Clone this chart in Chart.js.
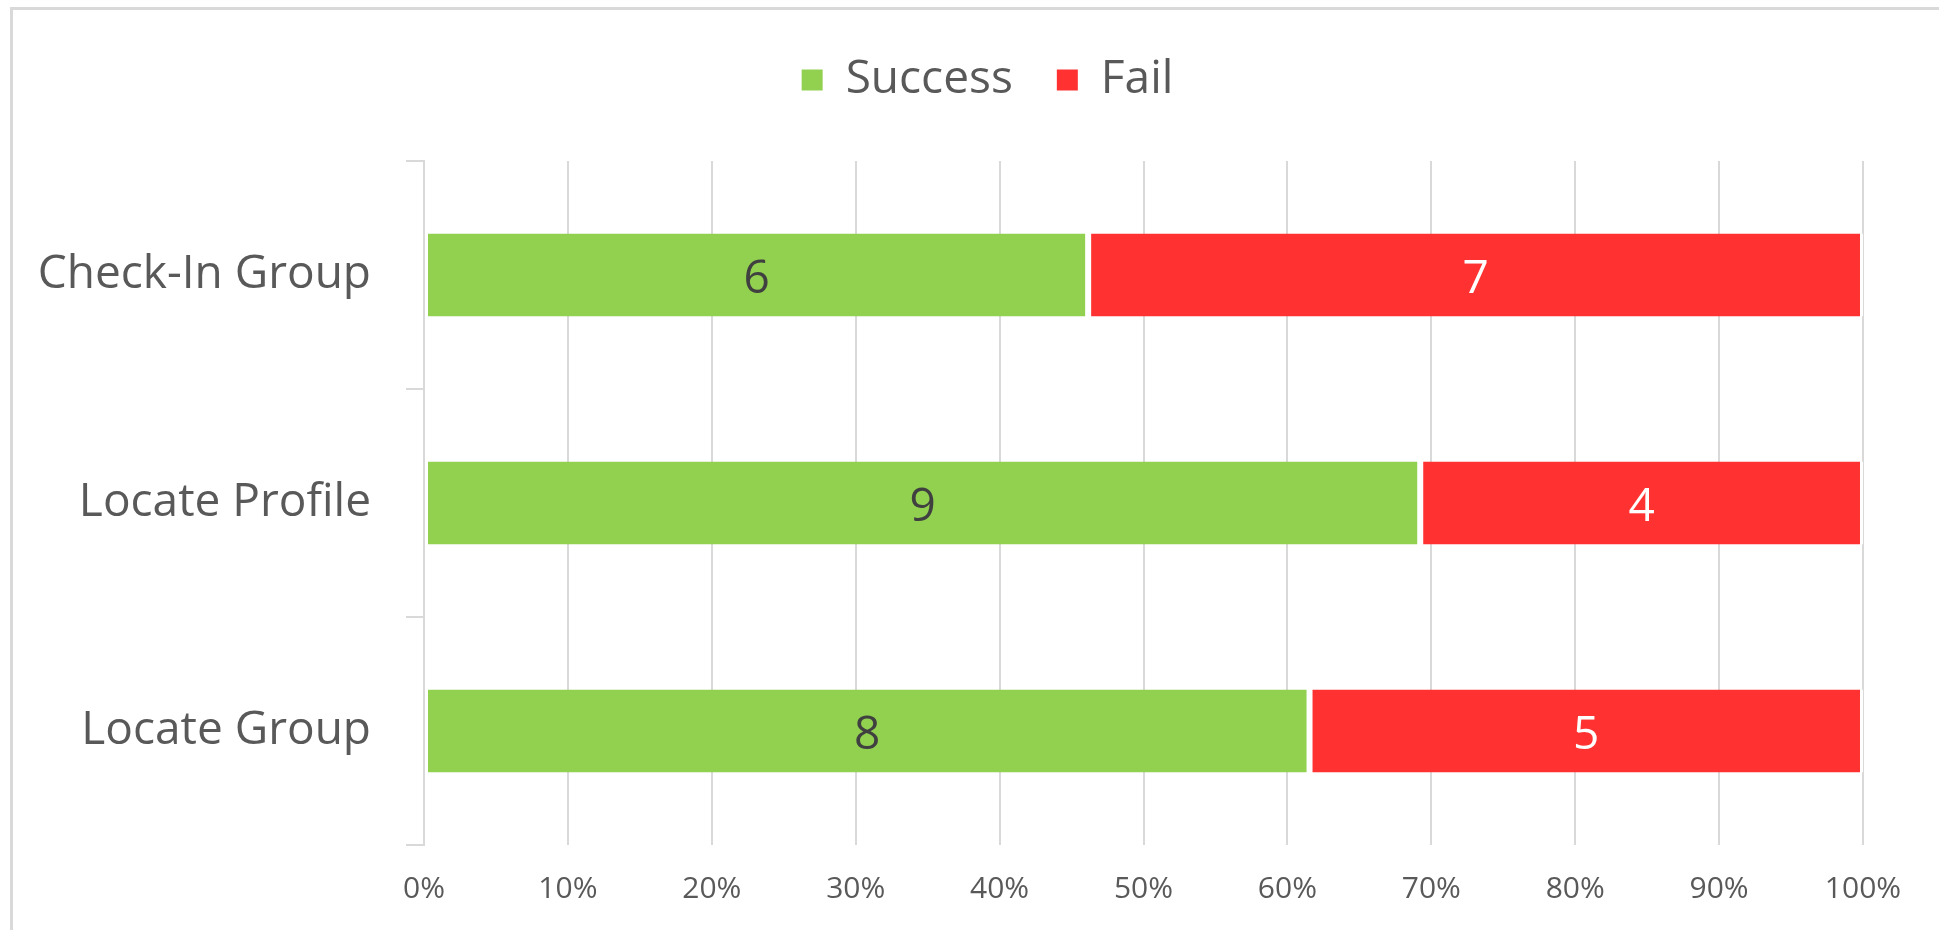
<!DOCTYPE html>
<html lang="en">
<head>
    <meta charset="UTF-8">
    <title>Success vs Fail</title>
    <style>
        body, html {
            margin: 0;
            padding: 0;
            background: #fff;
            overflow: hidden;
        }
        .frame {
            position: absolute;
            left: 10px;
            top: 7px;
            width: 3000px;
            height: 2000px;
            border-top: 3px solid #d9d9d9;
            border-left: 3px solid #d9d9d9;
        }
        .chart-container {
            position: absolute;
            left: 0;
            top: 0;
            width: 1939px;
            height: 930px;
        }
    </style>
    <script src="https://cdn.jsdelivr.net/npm/chart.js"></script>
</head>
<body>
    <div class="frame"></div>
    <div class="chart-container">
        <canvas id="taskChart"></canvas>
    </div>

    <script>
        const categories = ['Check-In Group', 'Locate Profile', 'Locate Group'];
        const successCounts = [6, 9, 8];
        const failCounts = [7, 4, 5];
        const seriesNames = ['Success', 'Fail'];
        const seriesColors = ['#92d050', '#ff3131'];
        const labelColors = ['#404040', '#ffffff'];

        // 100% stacked: turn counts into shares of each row
        const totals = successCounts.map((s, i) => s + failCounts[i]);
        const successPct = successCounts.map((s, i) => s / totals[i] * 100);
        const failPct = failCounts.map((f, i) => f / totals[i] * 100);
        const counts = [successCounts, failCounts];

        const font = 'Open Sans';
        const grey = '#595959';
        const lineGrey = '#d9d9d9';

        // push the plot area down below the legend, and nudge the legend right
        const legendSpace = {
            id: 'legendSpace',
            beforeInit(chart) {
                const fit = chart.legend.fit;
                chart.legend.fit = function () {
                    fit.call(this);
                    this.height += 48;
                };
            },
            afterLayout(chart) {
                chart.legend.left += 112;
            }
        };

        // count labels in the middle of each segment
        const barLabels = {
            id: 'barLabels',
            afterDatasetsDraw(chart) {
                const ctx = chart.ctx;
                ctx.save();
                ctx.font = '46px "' + font + '"';
                ctx.textAlign = 'center';
                ctx.textBaseline = 'middle';
                chart.data.datasets.forEach((ds, i) => {
                    chart.getDatasetMeta(i).data.forEach((bar, j) => {
                        const p = bar.getCenterPoint();
                        ctx.fillStyle = labelColors[i];
                        ctx.fillText(counts[i][j], p.x, p.y + 5);
                    });
                });
                ctx.restore();
            }
        };

        const data = {
            labels: categories,
            datasets: [successPct, failPct].map((values, i) => ({
                label: seriesNames[i],
                data: values,
                backgroundColor: seriesColors[i],
                borderColor: '#ffffff',
                borderWidth: { left: 3, right: 3, top: 0, bottom: 0 },
                borderSkipped: false,
                barPercentage: 0.364,
                categoryPercentage: 1
            }))
        };

        const options = {
            indexAxis: 'y',
            responsive: true,
            maintainAspectRatio: false,
            animation: false,
            layout: {
                padding: { left: 0, right: 76, top: 13, bottom: 0 }
            },
            scales: {
                x: {
                    stacked: true,
                    min: 0,
                    max: 100,
                    ticks: {
                        stepSize: 10,
                        padding: 26,
                        color: grey,
                        font: { family: font, size: 30 },
                        callback: value => value + '%'
                    },
                    grid: {
                        color: lineGrey,
                        lineWidth: 2,
                        drawTicks: false
                    },
                    border: { display: false },
                    afterFit(scale) { scale.height = 85; }
                },
                y: {
                    stacked: true,
                    ticks: {
                        padding: 35,
                        color: grey,
                        font: { family: font, size: 46 }
                    },
                    grid: {
                        offset: true,
                        drawOnChartArea: false,
                        drawTicks: true,
                        tickLength: 18,
                        color: lineGrey,
                        lineWidth: 2
                    },
                    border: { display: true, color: lineGrey, width: 2 },
                    afterFit(scale) { scale.width = 424; }
                }
            },
            plugins: {
                legend: {
                    position: 'top',
                    labels: {
                        boxWidth: 21,
                        boxHeight: 21,
                        padding: 44,
                        color: grey,
                        font: { family: font, size: 46 },
                        generateLabels(chart) {
                            return Chart.defaults.plugins.legend.labels.generateLabels(chart)
                                .map(item => ({ ...item, lineWidth: 0 }));
                        }
                    }
                },
                tooltip: { enabled: false }
            }
        };

        new Chart(document.getElementById('taskChart'), {
            type: 'bar',
            data: data,
            options: options,
            plugins: [legendSpace, barLabels]
        });
    </script>
</body>
</html>
